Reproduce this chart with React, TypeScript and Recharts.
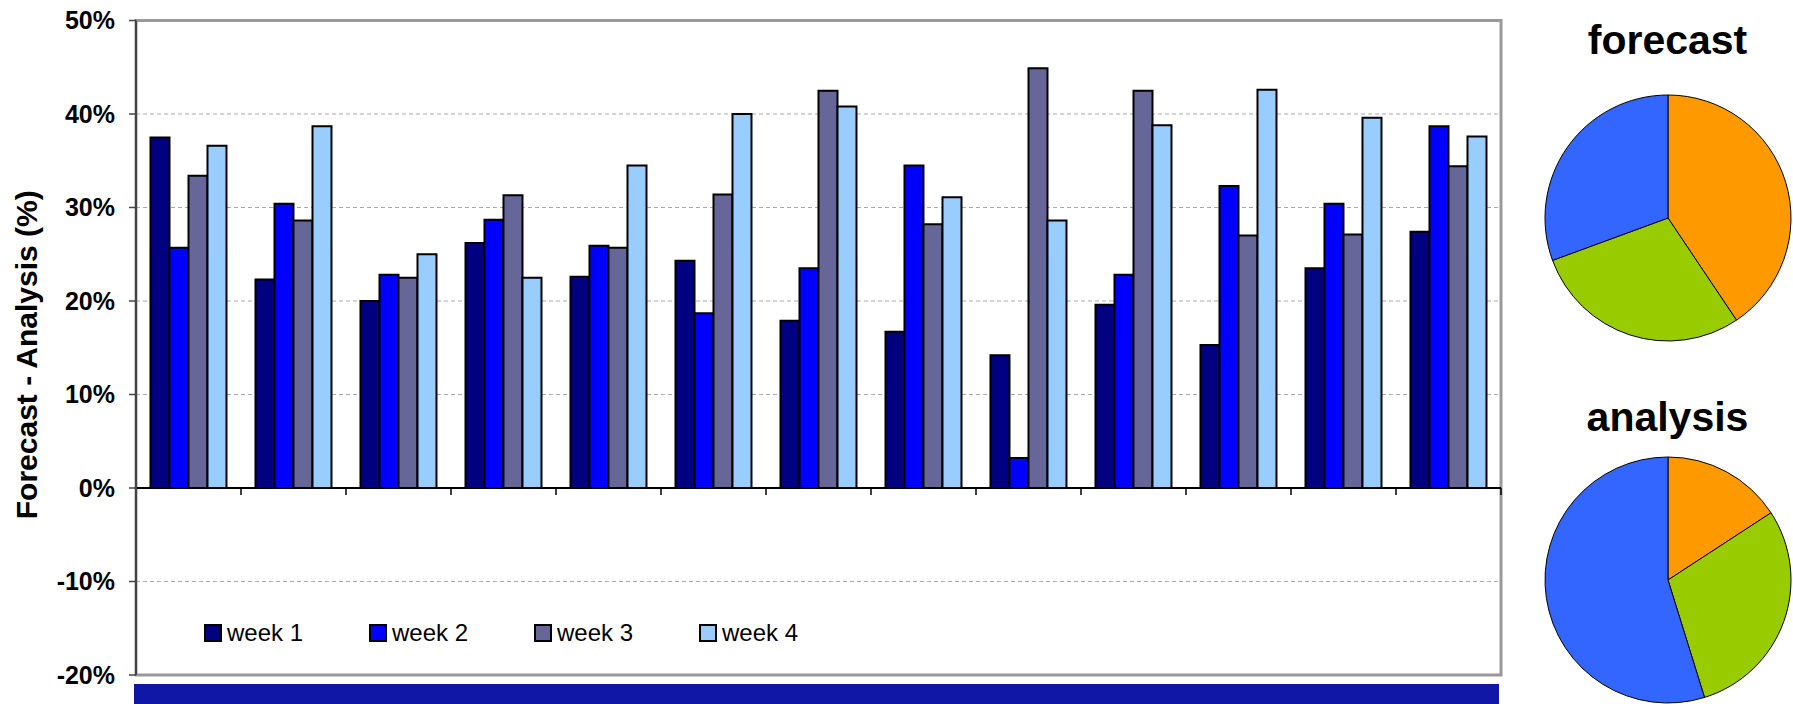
import React from 'react';
import {
  BarChart,
  Bar,
  XAxis,
  YAxis,
  CartesianGrid,
  ReferenceLine,
  ReferenceArea,
  Legend,
  PieChart,
  Pie,
  Cell,
} from 'recharts';

// Thirteen verification cases, four lead weeks each (values in %)
const categories = ['1', '2', '3', '4', '5', '6', '7', '8', '9', '10', '11', '12', '13'];
const week1 = [37.5, 22.3, 20.0, 26.2, 22.6, 24.3, 17.9, 16.7, 14.2, 19.6, 15.3, 23.5, 27.4];
const week2 = [25.7, 30.4, 22.8, 28.7, 25.9, 18.7, 23.5, 34.5, 3.2, 22.8, 32.3, 30.4, 38.7];
const week3 = [33.4, 28.6, 22.5, 31.3, 25.7, 31.4, 42.5, 28.2, 44.9, 42.5, 27.0, 27.1, 34.4];
const week4 = [36.6, 38.7, 25.0, 22.5, 34.5, 40.0, 40.8, 31.1, 28.6, 38.8, 42.6, 39.6, 37.6];

const seriesNames = ['week 1', 'week 2', 'week 3', 'week 4'];
const seriesColors = ['#000080', '#0000FF', '#666699', '#99CCFF'];
const yTicks = [-20, -10, 0, 10, 20, 30, 40, 50];

// Pie shares
const sliceNames = ['A', 'B', 'C'];
const sliceColors = ['#FF9900', '#99CC00', '#3366FF'];
const forecastShares = [40.6, 28.8, 30.6];
const analysisShares = [15.8, 29.4, 54.8];

const FONT = '"Liberation Sans", Arial, Helvetica, sans-serif';

const barData = categories.map((name, i) => ({
  name,
  w1: week1[i],
  w2: week2[i],
  w3: week3[i],
  w4: week4[i],
}));
const seriesKeys = ['w1', 'w2', 'w3', 'w4'];

const forecastData = sliceNames.map((name, i) => ({ name, value: forecastShares[i] }));
const analysisData = sliceNames.map((name, i) => ({ name, value: analysisShares[i] }));

// Category axis drawn at 0 %, with tick marks between groups
const ZeroAxis = (props: any) => {
  const { x1, x2, y1 } = props;
  const n = categories.length;
  const step = (x2 - x1) / n;
  return (
    <g>
      <line x1={x1} x2={x2} y1={y1} y2={y1} stroke="#000" strokeWidth={2} />
      {categories.map((c, i) => (
        <line
          key={c}
          x1={x1 + step * (i + 1)}
          x2={x1 + step * (i + 1)}
          y1={y1}
          y2={y1 + 7}
          stroke="#000"
          strokeWidth={1.5}
        />
      ))}
    </g>
  );
};

const LegendContent = (props: any) => {
  const payload = props.payload || [];
  return (
    <div style={{ display: 'flex', fontFamily: FONT }}>
      {payload.map((p: any) => (
        <div key={p.value} style={{ width: 165, height: 24, display: 'flex', alignItems: 'center' }}>
          <span
            style={{
              width: 18,
              height: 18,
              boxSizing: 'border-box',
              border: '2px solid #000',
              background: p.color,
              marginRight: 5,
              display: 'inline-block',
            }}
          />
          <span style={{ fontSize: 24, lineHeight: '24px', color: '#000' }}>{p.value}</span>
        </div>
      ))}
    </div>
  );
};

const YTitle = (props: any) => {
  const vb = props.viewBox || {};
  const x = vb.x + 37;
  const y = vb.y + vb.height / 2 + 7;
  return (
    <text
      x={x}
      y={y}
      transform={`rotate(-90, ${x}, ${y})`}
      textAnchor="middle"
      fontFamily={FONT}
      fontWeight="bold"
      fontSize={30}
      fill="#000"
    >
      Forecast - Analysis (%)
    </text>
  );
};

const PieBlock = ({ title, data, left, top, titleTop }: any) => (
  <>
    <div
      style={{
        position: 'absolute',
        left: left - 20,
        top: titleTop,
        width: 304,
        textAlign: 'center',
        fontFamily: FONT,
        fontWeight: 'bold',
        fontSize: 41,
        lineHeight: '41px',
        color: '#000',
      }}
    >
      {title}
    </div>
    <div style={{ position: 'absolute', left, top }}>
      <PieChart width={264} height={264} margin={{ top: 0, right: 0, bottom: 0, left: 0 }}>
        <Pie
          data={data}
          dataKey="value"
          nameKey="name"
          cx="50%"
          cy="50%"
          outerRadius={123}
          startAngle={90}
          endAngle={-270}
          stroke="#000"
          strokeWidth={1}
          isAnimationActive={false}
        >
          {data.map((d: any, i: number) => (
            <Cell key={d.name} fill={sliceColors[i]} />
          ))}
        </Pie>
      </PieChart>
    </div>
  </>
);

export default function App() {
  return (
    <div
      style={{
        position: 'absolute',
        left: 0,
        top: 0,
        width: 1793,
        height: 704,
        background: '#fff',
        overflow: 'hidden',
      }}
    >
      <div style={{ position: 'absolute', left: 0, top: 0 }}>
        <BarChart
          width={1520}
          height={704}
          data={barData}
          margin={{ top: 20.5, right: 19, bottom: 29, left: 0 }}
          barCategoryGap="13.8%"
          barGap={0}
        >
          <CartesianGrid vertical={false} stroke="#aaa" strokeDasharray="4 3" strokeWidth={1.2} />
          <ReferenceArea y1={-20} y2={50} fill="none" stroke="#999" strokeWidth={3} />
          <XAxis dataKey="name" hide />
          <YAxis
            width={136}
            domain={[-20, 50]}
            ticks={yTicks}
            interval={0}
            allowDataOverflow
            tickFormatter={(v: number) => `${v}%`}
            axisLine={{ stroke: '#444', strokeWidth: 2 }}
            tickLine={{ stroke: '#444', strokeWidth: 1.5 }}
            tickSize={7}
            tickMargin={14}
            tick={{ fill: '#000', fontFamily: FONT, fontWeight: 'bold', fontSize: 25 }}
            label={<YTitle />}
          />
          {seriesKeys.map((k, i) => (
            <Bar
              key={k}
              dataKey={k}
              name={seriesNames[i]}
              fill={seriesColors[i]}
              stroke="#000"
              strokeWidth={2}
              isAnimationActive={false}
            />
          ))}
          <ReferenceLine y={0} shape={ZeroAxis} />
          <Legend
            layout="horizontal"
            verticalAlign="middle"
            align="center"
            content={<LegendContent />}
            wrapperStyle={{ left: 204, top: 620.7, width: 700, height: 24 }}
          />
        </BarChart>
      </div>

      <div
        style={{
          position: 'absolute',
          left: 134,
          top: 684,
          width: 1365,
          height: 20,
          background: '#1016A6',
        }}
      />

      <PieBlock title="forecast" data={forecastData} left={1535.5} top={85.5} titleTop={20.3} />
      <PieBlock title="analysis" data={analysisData} left={1535.5} top={447.5} titleTop={397} />
    </div>
  );
}
